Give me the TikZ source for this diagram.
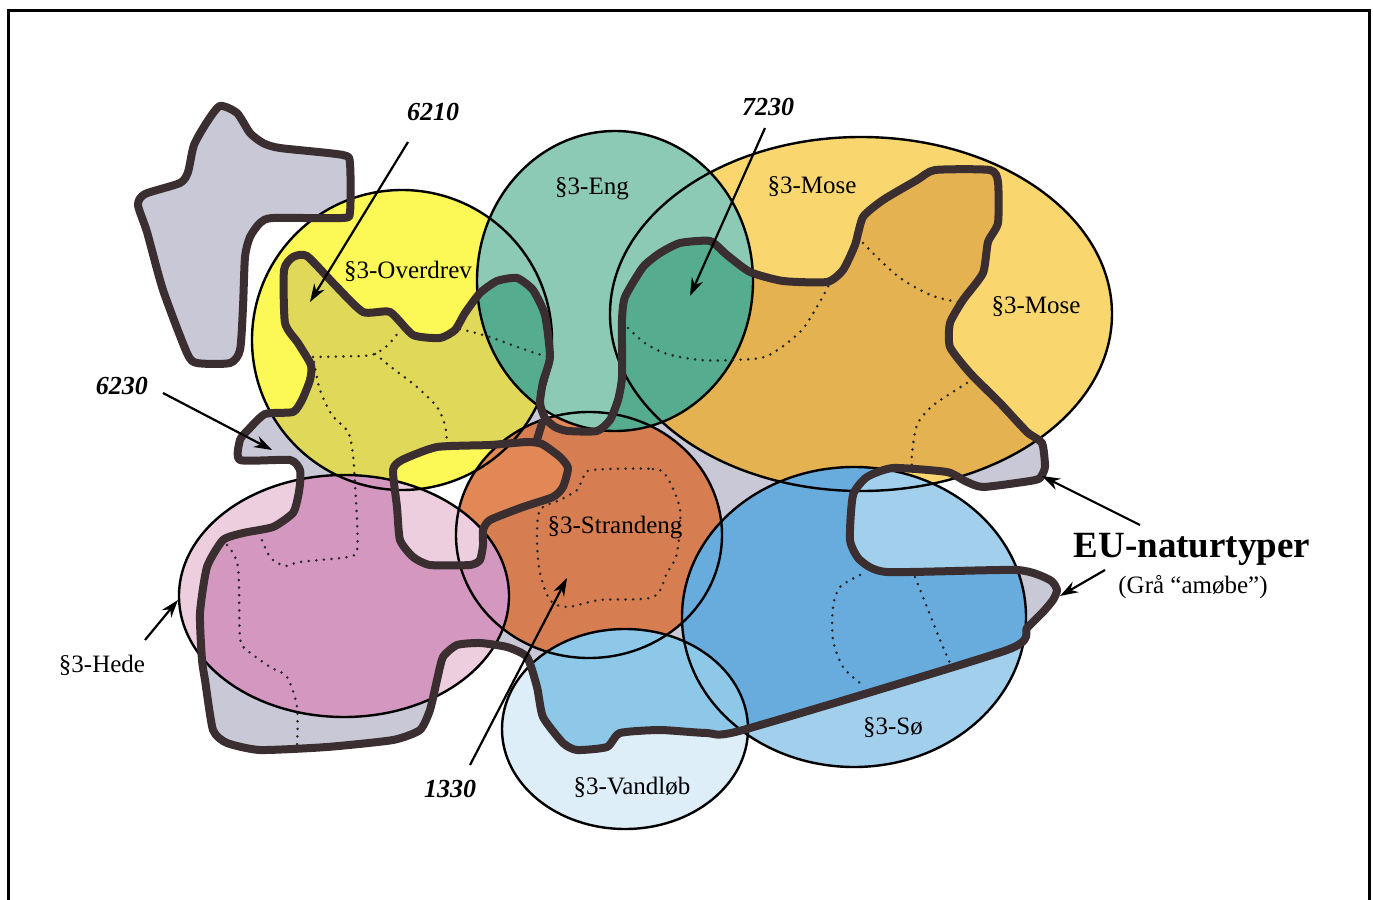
\documentclass[tikz,border=0pt]{standalone}
\usepackage{fontspec}
\setmainfont{Liberation Serif}
\usetikzlibrary{arrows.meta}
\definecolor{greyA}{RGB}{200,200,214}
\definecolor{amc}{RGB}{58,46,48}
\definecolor{yelL}{RGB}{252,248,85}
\definecolor{yelD}{RGB}{224,216,88}
\definecolor{engL}{RGB}{140,202,182}
\definecolor{engD}{RGB}{86,172,142}
\definecolor{moseL}{RGB}{250,215,110}
\definecolor{moseD}{RGB}{228,178,80}
\definecolor{strL}{RGB}{226,136,86}
\definecolor{strD}{RGB}{214,126,82}
\definecolor{hedeL}{RGB}{236,206,222}
\definecolor{hedeD}{RGB}{212,152,192}
\definecolor{soL}{RGB}{162,207,236}
\definecolor{soD}{RGB}{104,172,222}
\definecolor{vanL}{RGB}{222,238,248}
\definecolor{vanD}{RGB}{142,200,232}
\begin{document}
\begin{tikzpicture}[x=0.5pt,y=-0.5pt,
  amline/.style={line width=4pt, draw=amc, line join=round},
  circline/.style={line width=1.2pt, draw=black},
  dotline/.style={draw=black!85, line width=1.4pt, line cap=round, dash pattern=on 0pt off 3.8pt},
  arr/.style={line width=1.1pt, draw=black, -{Stealth[length=9pt,width=6pt]}},
  lab/.style={font=\fontsize{12.5}{14}\selectfont, inner sep=0pt},
  num/.style={font=\fontsize{13}{15}\selectfont\bfseries\itshape, inner sep=0pt},
]
\useasboundingbox (0,0) rectangle (1373,900);
% frame
\draw[line width=1.5pt] (8,900) -- (8,10) -- (1369,10) -- (1369,900);

\def\blob{plot[smooth cycle,tension=.4] coordinates {(220,106) (237,113) (250,133) (263,143) (280,148) (343,155) (350,164) (350,212) (342,218) (273,218) (260,223) (250,237) (245,257) (243,307) (240,350) (230,363) (197,363) (187,353) (163,290) (147,232) (138,205) (145,194) (180,183) (188,172) (194,145) (207,122)}}
\def\outerA{plot[smooth cycle,tension=.35] coordinates {(293,257) (307,256) (335,285) (363,312) (390,312) (413,335) (440,338) (455,330) (465,313) (480,293) (497,281) (517,278) (533,290) (545,315) (550,357) (543,382) (540,403) (545,418) (555,427) (568,431) (597,431) (610,420) (618,400) (622,377) (622,320) (625,297) (643,267) (660,253) (680,243) (710,241) (727,255) (750,272) (783,281) (827,282) (843,270) (855,245) (863,217) (883,200) (917,180) (935,170) (990,170) (998,182) (998,223) (988,242) (983,273) (963,300) (950,323) (950,347) (970,373) (1000,403) (1027,432) (1042,443) (1045,467) (1040,478) (1030,481) (983,487) (965,481) (947,472) (893,468) (867,477) (853,495) (850,540) (860,560) (887,572) (1017,570) (1050,580) (1057,590) (1053,600) (1043,612) (1027,628) (1007,650) (743,730) (707,733) (660,730) (620,733) (607,747) (577,750) (563,743) (543,717) (537,687) (527,657) (507,647) (480,643) (457,645) (443,657) (437,680) (430,710) (420,730) (393,740) (327,747) (260,750) (227,743) (213,730) (205,680) (202,660) (200,613) (207,567) (223,540) (243,533) (273,527) (293,513) (298,497) (300,484) (300,470) (290,460) (240,460) (240,440) (248,430) (265,414) (293,412) (302,400) (310,380) (311,365) (298,343) (285,323) (284,270)}}
\def\holeA{plot[smooth cycle,tension=.35] coordinates {(393,470) (402,460) (437,447) (490,445) (527,442) (542,444) (560,457) (568,468) (563,487) (553,497) (523,507) (490,520) (483,530) (483,545) (480,560) (470,565) (430,565) (413,557) (400,540) (397,507)}}

\def\cOver{(402,340) ellipse [x radius=150, y radius=150]}
\def\cMose{(861,314) ellipse [x radius=251, y radius=177]}
\def\cStr{(589,535) ellipse [x radius=133, y radius=123]}
\def\cHede{(344,596) ellipse [x radius=165, y radius=121]}
\def\cEng{(615,281) ellipse [x radius=138, y radius=150]}
\def\cSo{(854,617) ellipse [x radius=172, y radius=150]}
\def\cVan{(625,729) ellipse [x radius=123, y radius=100]}

% grey areas
\fill[greyA] \blob;
\begin{scope}[even odd rule]
\fill[greyA] \outerA \holeA;
\end{scope}

% circles, bottom to top, light outside amoeba, dark inside
\fill[yelL] \cOver;
\begin{scope}[even odd rule]\clip \outerA \holeA; \fill[yelD] \cOver; \end{scope}
\fill[moseL] \cMose;
\begin{scope}[even odd rule]\clip \outerA \holeA; \fill[moseD] \cMose; \end{scope}
\fill[strL] \cStr;
\begin{scope}[even odd rule]\clip \outerA \holeA; \fill[strD] \cStr; \end{scope}
\fill[hedeL] \cHede;
\begin{scope}[even odd rule]\clip \outerA \holeA; \fill[hedeD] \cHede; \end{scope}
\fill[engL] \cEng;
\begin{scope}[even odd rule]\clip \outerA \holeA; \fill[engD] \cEng; \end{scope}
\fill[soL] \cSo;
\begin{scope}[even odd rule]\clip \outerA \holeA; \fill[soD] \cSo; \end{scope}
\fill[vanL] \cVan;
\begin{scope}[even odd rule]\clip \outerA \holeA; \fill[vanD] \cVan; \end{scope}

% circle outlines
\draw[circline] \cOver;
\draw[circline] \cMose;
\draw[circline] \cStr;
\draw[circline] \cHede;
\draw[circline] \cEng;
\draw[circline] \cSo;
\draw[circline] \cVan;

% dotted sub-boundaries
\draw[dotline] plot[smooth,tension=.5] coordinates {(313,357) (360,356) (375,354) (388,345) (398,333)};
\draw[dotline] plot[smooth,tension=.5] coordinates {(375,354) (395,370) (417,387) (437,407) (445,425) (447,443)};
\draw[dotline] plot[smooth,tension=.5] coordinates {(314,362) (320,390) (332,415) (348,432) (353,455) (355,485) (357,520) (357,550) (348,557) (300,562) (285,566) (270,557) (260,535)};
\draw[dotline] plot[smooth,tension=.5] coordinates {(460,329) (490,337) (520,348) (548,357)};
\draw[dotline] plot[smooth,tension=.5] coordinates {(628,328) (645,343) (667,354) (700,360) (733,360) (767,356) (800,332) (818,305) (830,283)};
\draw[dotline] plot[smooth,tension=.5] coordinates {(863,243) (883,263) (903,280) (933,296) (963,303)};
\draw[dotline] plot[smooth,tension=.5] coordinates {(967,383) (945,397) (930,408) (917,425) (912,453) (912,468)};
\draw[dotline] plot[smooth cycle,tension=.5] coordinates {(592,470) (653,469) (667,477) (680,510) (677,553) (667,573) (653,597) (600,600) (567,607) (550,600) (540,573) (537,540) (540,510) (560,500) (577,490) (583,478)};
\draw[dotline] plot[smooth,tension=.5] coordinates {(860,575) (840,587) (833,607) (833,640) (843,667) (860,683)};
\draw[dotline] plot[smooth,tension=.5] coordinates {(915,577) (927,607) (940,640) (950,663)};
\draw[dotline] plot[smooth,tension=.5] coordinates {(227,545) (238,567) (240,637) (247,650) (270,667) (287,677) (297,707) (297,747)};

% amoeba outlines
\draw[amline] \blob;
\draw[amline] \outerA;
\draw[amline] \holeA;
\coordinate (j1) at (543,420);
\coordinate (j2) at (536,443);
\draw[amline] (j1) -- (j2);

% labels
\node[lab] (eng) at (592,189) {§3-Eng};
\node[lab] (over) at (408,271) {§3-Overdrev};
\node[lab] (mose1) at (812,187) {§3-Mose};
\node[lab] (mose2) at (1036,307) {§3-Mose};
\node[lab] (strand) at (615,528) {§3-Strandeng};
\node[lab] (hede) at (102,665) {§3-Hede};
\node[lab] (so) at (893,728) {§3-Sø};
\node[lab] (vand) at (632,787) {§3-Vandløb};
\node[num] (n6210) at (433,112) {6210};
\node[num] (n7230) at (768,107) {7230};
\node[num] (n6230) at (122,386) {6230};
\node[num] (n1330) at (450,789) {1330};
\node[font=\fontsize{18.5}{20}\selectfont\bfseries, inner sep=0pt] (eu) at (1192,549) {EU-naturtyper};
\node[lab] (gra) at (1193,587) {(Grå “amøbe”)};

% arrows
\coordinate (s6210) at (408,142); \coordinate (t6210) at (310,302);
\draw[arr] (s6210) -- (t6210);
\coordinate (s7230) at (765,128); \coordinate (t7230) at (690,296);
\draw[arr] (s7230) -- (t7230);
\coordinate (s6230) at (163,393); \coordinate (t6230) at (272,450);
\draw[arr] (s6230) -- (t6230);
\coordinate (shede) at (145,640); \coordinate (thede) at (178,600);
\draw[arr] (shede) -- (thede);
\coordinate (s1330) at (470,765); \coordinate (t1330) at (567,578);
\draw[arr] (s1330) -- (t1330);
\coordinate (seu1) at (1140,525); \coordinate (teu1) at (1042,476);
\draw[arr] (seu1) -- (teu1);
\coordinate (seu2) at (1105,570); \coordinate (teu2) at (1060,596);
\draw[arr] (seu2) -- (teu2);
\end{tikzpicture}
\end{document}
